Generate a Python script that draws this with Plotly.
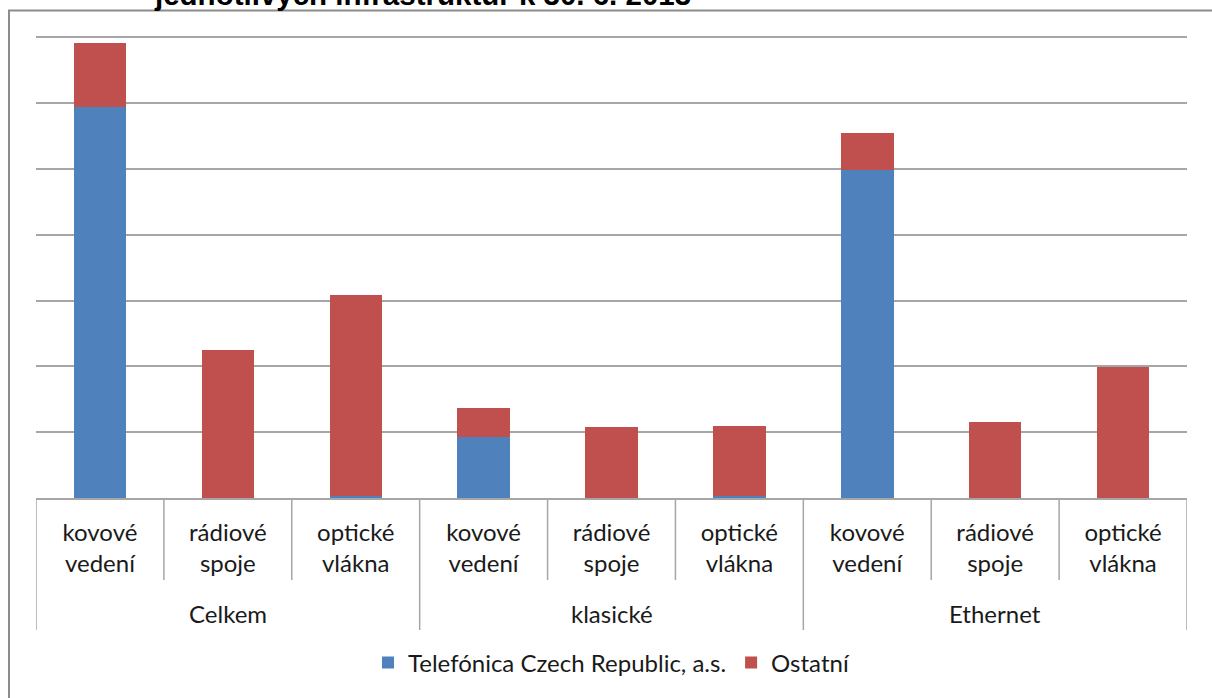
import plotly.graph_objects as go

groups = ["Celkem", "Celkem", "Celkem", "klasické", "klasické", "klasické", "Ethernet", "Ethernet", "Ethernet"]
subcats = ["kovové<br>vedení", "rádiové<br>spoje", "optické<br>vlákna"] * 3
telefonica = [5.94, 0.0, 0.03, 0.93, 0.0, 0.03, 4.99, 0.0, 0.0]
ostatni = [0.97, 2.25, 3.05, 0.43, 1.08, 1.07, 0.55, 1.15, 1.99]
series_names = ["Telefónica Czech Republic, a.s.", "Ostatní"]
title_text = "jednotlivých infrastruktur k 30. 6. 2013"

W, H = 1212, 698
ML, MR, MT, MB = 36, 25, 34, 200
PW, PH = W - ML - MR, H - MT - MB
YMAX = 7.05

def px_x(p):
    return (p - ML) / PW

def px_y(p):
    return (H - MB - p) / PH

FONT = "Lato"
GRID = "#a6a6a6"
n = len(subcats)
xs = list(range(n))

fig = go.Figure()
fig.add_trace(go.Bar(x=xs, y=telefonica, name=series_names[0],
                     marker=dict(color="#4F81BD", line=dict(width=0))))
fig.add_trace(go.Bar(x=xs, y=ostatni, name=series_names[1],
                     marker=dict(color="#C0504D", line=dict(width=0))))

shapes = []
# boundaries between sub-categories
for i in range(n + 1):
    is_group_edge = i == 0 or i == n or groups[i] != groups[i - 1]
    shapes.append(dict(type="line", xref="x", yref="paper",
                       x0=i - 0.5, x1=i - 0.5, y0=0,
                       y1=px_y(630 if is_group_edge else 580),
                       line=dict(color=GRID, width=1.5)))
# chart area border
shapes.append(dict(type="rect", xref="paper", yref="paper",
                   x0=px_x(9), x1=px_x(1300), y0=px_y(10.5), y1=px_y(800),
                   line=dict(color="#8c8c8c", width=2), fillcolor="rgba(0,0,0,0)"))

annotations = []
# group labels
seen = []
for g in groups:
    if g not in seen:
        seen.append(g)
for g in seen:
    idx = [i for i, v in enumerate(groups) if v == g]
    annotations.append(dict(text=g, xref="x", yref="paper", x=sum(idx) / len(idx),
                            y=px_y(613), xanchor="center", yanchor="middle",
                            showarrow=False, font=dict(family=FONT, size=24, color="#1a1a1a")))
annotations.append(dict(text="<b>" + title_text + "</b>", xref="paper", yref="paper",
                        x=px_x(422), y=px_y(13.5), xanchor="center", yanchor="bottom",
                        showarrow=False,
                        font=dict(family="Liberation Sans", size=29.5, color="#000")))

fig.update_layout(
    width=W, height=H,
    margin=dict(l=ML, r=MR, t=MT, b=MB, pad=0),
    barmode="stack", bargap=0.59,
    plot_bgcolor="white", paper_bgcolor="white",
    font=dict(family=FONT, size=24, color="#1a1a1a"),
    showlegend=True,
    legend=dict(orientation="h", x=0.5, xanchor="center", y=px_y(663), yanchor="middle",
                font=dict(size=24), itemwidth=30, traceorder="normal"),
    xaxis=dict(range=[-0.5, n - 0.5], tickmode="array", tickvals=xs, ticktext=subcats,
               showline=True, linecolor=GRID, linewidth=1.5, ticks="", showgrid=False,
               zeroline=False, tickfont=dict(size=24), ticklabelstandoff=12),
    yaxis=dict(range=[0, YMAX], dtick=1, showticklabels=False, showgrid=True,
               gridcolor=GRID, gridwidth=1.5, zeroline=False, showline=False),
    shapes=shapes,
    annotations=annotations,
)

fig.write_html("out.html", config={"displayModeBar": False},
               post_script="document.body.style.margin='0';document.body.style.overflow='hidden';")
